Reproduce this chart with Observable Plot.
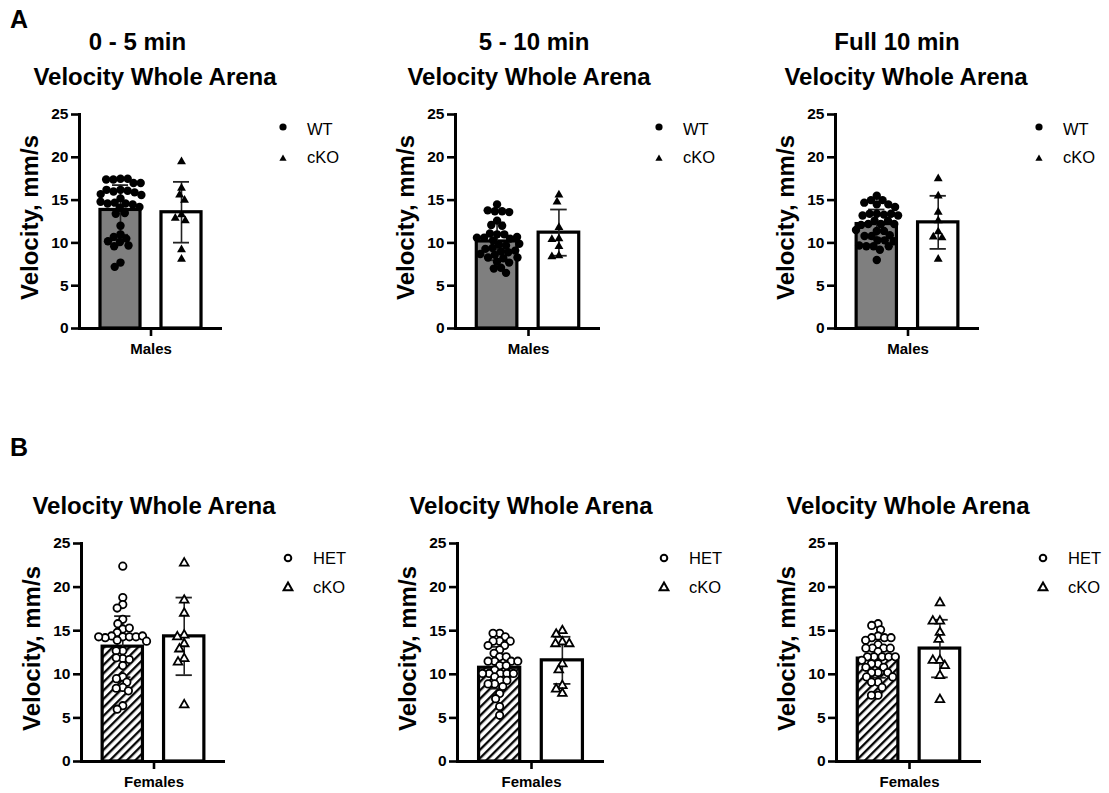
<!DOCTYPE html>
<html><head><meta charset="utf-8">
<script src="https://cdn.jsdelivr.net/npm/d3@7"></script>
<script src="https://cdn.jsdelivr.net/npm/@observablehq/plot@0.6"></script>
<style>
html,body{margin:0;padding:0;background:#fff;}
body{width:1109px;height:793px;position:relative;overflow:hidden;font-family:"Liberation Sans",Arial,sans-serif;}
.abs{position:absolute;}
.abs svg{overflow:visible;}
</style></head><body>
<script>
// ---------- data ----------
const groupsA = ["WT", "cKO"];
const groupsB = ["HET", "cKO"];
const yTicks = [0, 5, 10, 15, 20, 25];

// A: Males, 0-5 min
const a1WT = [17.5,17.4,17.5,17.4,17.0,17.0,16.2,16.0,16.1,16.2,15.9,15.7,15.6,15.2,14.7,14.6,14.5,14.6,14.8,14.2,14.1,13.5,13.4,12.0,11.0,10.7,10.5,10.2,10.1,9.7,9.6,7.7,7.2];
const a1cKO = [19.5,16.4,15.6,15.0,13.3,12.9,12.6,9.2,8.1];
const a1Mean = [13.85, 13.58];
const a1SD = [2.9, 3.55];
// A: Males, 5-10 min
const a2WT = [14.5,13.7,13.7,13.8,13.6,12.6,12.1,12.0,11.0,11.1,11.0,10.6,10.5,10.7,10.6,10.3,9.8,9.9,9.7,9.4,9.3,9.0,8.9,9.1,8.6,8.7,8.3,8.3,8.2,7.8,7.7,7.1,7.0,6.5];
const a2cKO = [15.6,14.8,11.8,10.5,10.4,9.6,8.5,8.4];
const a2Mean = [10.17, 11.2];
const a2SD = [2.2, 2.7];
// A: Males, full 10 min
const a3WT = [15.5,15.0,15.0,14.7,14.5,14.5,14.2,13.4,13.4,13.3,13.4,13.2,13.2,12.6,12.6,12.2,12.2,12.1,12.2,11.4,11.4,11.5,10.8,10.8,10.9,10.3,10.3,10.2,9.6,9.6,9.7,9.6,9.2,8.0];
const a3cKO = [17.5,15.5,13.6,12.6,11.3,10.7,10.6,8.1];
const a3Mean = [12.2, 12.4];
const a3SD = [1.7, 3.1];
// B: Females
const b1HET = [22.4,18.8,18.0,17.6,16.3,15.8,15.2,15.3,14.8,14.3,14.3,14.4,14.3,14.2,14.4,14.3,13.9,13.8,12.7,12.7,11.8,11.9,11.7,11.0,9.7,9.5,9.1,8.5,8.4,8.1,6.4,6.0];
const b1cKO = [22.75,18.5,17.0,14.5,14.3,13.5,12.9,11.8,11.4,6.5];
const b1Mean = [13.17, 14.35];
const b1SD = [3.5, 4.45];
const b2HET = [14.7,14.7,14.3,13.8,13.8,13.8,13.3,13.3,12.8,12.4,12.0,12.0,11.5,11.5,11.5,11.5,11.0,11.0,10.5,10.1,10.1,10.1,10.1,10.1,9.7,9.3,9.3,8.9,8.9,8.6,7.8,7.2,6.3,5.3];
const b2cKO = [15.0,14.6,13.7,13.5,13.5,11.2,10.5,8.7,8.3,7.8];
const b2Mean = [10.75, 11.6];
const b2SD = [2.4, 2.7];
const b3HET = [15.8,15.6,15.1,14.4,14.2,14.2,14.2,13.9,13.4,13.0,13.0,13.0,13.0,12.6,12.0,12.0,12.0,12.0,12.0,11.6,11.2,11.2,10.8,10.8,10.2,10.2,10.2,9.7,9.7,9.1,9.1,8.5,7.6,7.6];
const b3cKO = [18.2,16.1,16.1,14.8,14.0,11.6,11.6,11.0,9.85,7.1];
const b3Mean = [11.8, 12.95];
const b3SD = [2.2, 3.3];

const yLabel = "Velocity, mm/s";
const panelTitle = "Velocity Whole Arena";
const timeTitles = ["0 - 5 min", "5 - 10 min", "Full 10 min"];

// ---------- layout (page positions of each frame) ----------
const FONT = '"Liberation Sans", Arial, sans-serif';
const ML = 70, MR = 12, MT = 12, MB = 40;
const panels = [
  {id:"A1", groups:groupsA, pts:[a1WT,a1cKO], mean:a1Mean, sd:a1SD, sex:"Males",   open:false, ax:79,  ay:114, w:143, h:214, tx:155, ttx:137.5, tt:timeTitles[0]},
  {id:"A2", groups:groupsA, pts:[a2WT,a2cKO], mean:a2Mean, sd:a2SD, sex:"Males",   open:false, ax:455, ay:114, w:145, h:214, tx:529, ttx:534, tt:timeTitles[1]},
  {id:"A3", groups:groupsA, pts:[a3WT,a3cKO], mean:a3Mean, sd:a3SD, sex:"Males",   open:false, ax:835, ay:114, w:144, h:214, tx:906, ttx:897, tt:timeTitles[2]},
  {id:"B1", groups:groupsB, pts:[b1HET,b1cKO], mean:b1Mean, sd:b1SD, sex:"Females", open:true, ax:81,  ay:543, w:144, h:218, tx:154},
  {id:"B2", groups:groupsB, pts:[b2HET,b2cKO], mean:b2Mean, sd:b2SD, sex:"Females", open:true, ax:457, ay:543, w:147, h:218, tx:531},
  {id:"B3", groups:groupsB, pts:[b3HET,b3cKO], mean:b3Mean, sd:b3SD, sex:"Females", open:true, ax:836, ay:543, w:145, h:218, tx:908}
];

function addHatch(svg, id) {
  const ns = "http://www.w3.org/2000/svg";
  const defs = document.createElementNS(ns, "defs");
  defs.innerHTML = `<pattern id="${id}" patternUnits="userSpaceOnUse" width="6" height="6" patternTransform="rotate(45)">
     <rect width="6" height="6" fill="white"/>
     <line x1="1.2" y1="0" x2="1.2" y2="6" stroke="black" stroke-width="2.3"/></pattern>`;
  svg.insertBefore(defs, svg.firstChild);
}

for (const p of panels) {
  const width = ML + p.w + MR, height = MT + p.h + MB;
  const summary = p.groups.map((g, i) => ({g, mean: p.mean[i], sd: p.sd[i]}));
  const pts0 = p.pts[0].map(v => ({g: p.groups[0], v}));
  const pts1 = p.pts[1].map(v => ({g: p.groups[1], v}));
  const hatchId = "hatch-" + p.id;
  const fill0 = p.open ? `url(#${hatchId})` : "#7f7f7f";
  const dotFill = p.open ? "white" : "black";
  const dotStroke = p.open ? "black" : "none";

  const dataPlot = Plot.plot({
    width, height, marginLeft: ML, marginRight: MR, marginTop: MT, marginBottom: MB,
    style: {background: "transparent", fontFamily: FONT},
    fx: {domain: p.groups, paddingInner: 0.344, paddingOuter: 0.344, round: false, axis: null, label: null},
    y: {domain: [0, 25], axis: null},
    marks: [
      Plot.barY([summary[0]], {fx: "g", y: "mean", fill: fill0, stroke: "black", strokeWidth: 3.2}),
      Plot.barY([summary[1]], {fx: "g", y: "mean", fill: "white", stroke: "black", strokeWidth: 3.2}),
      Plot.ruleX(summary, {fx: "g", x: null, y1: d => d.mean - d.sd, y2: d => d.mean + d.sd, stroke: "#222", strokeWidth: 1.6}),
      Plot.tickY(summary, {fx: "g", y: d => d.mean + d.sd, stroke: "#222", strokeWidth: 1.8, insetLeft: 12, insetRight: 12}),
      Plot.tickY(summary, {fx: "g", y: d => d.mean - d.sd, stroke: "#222", strokeWidth: 1.8, insetLeft: 12, insetRight: 12}),
      Plot.dot(pts0, Plot.dodgeX({anchor: "middle", padding: 0, r: p.open ? 3.3 : 3.6},
        {fx: "g", y: "v", r: p.open ? 3.7 : 4.2, symbol: "circle", fill: dotFill, stroke: dotStroke, strokeWidth: 1.8})),
      Plot.dot(pts1, Plot.dodgeX({anchor: "middle", padding: 0.5, r: 3.3},
        {fx: "g", y: "v", r: p.open ? 3.2 : 3.3, symbol: "triangle", fill: dotFill, stroke: dotStroke, strokeWidth: 1.8}))
    ]
  });
  if (p.open) addHatch(dataPlot, hatchId);

  const axisPlot = Plot.plot({
    width, height, marginLeft: ML, marginRight: MR, marginTop: MT, marginBottom: MB,
    style: {background: "transparent", fontFamily: FONT, fontWeight: "bold", color: "black"},
    x: {type: "band", domain: [p.sex], axis: null},
    y: {domain: [0, 25], axis: null},
    marks: [
      Plot.axisY({ticks: yTicks, tickSize: 8, tickPadding: 3, strokeWidth: 2.6, fontSize: 15.5, fontWeight: "bold", label: null}),
      Plot.axisX({tickSize: 8, tickPadding: 7, strokeWidth: 2.6, fontSize: 15, fontWeight: "bold", label: null}),
      Plot.ruleY([0], {strokeWidth: 3}),
      Plot.frame({anchor: "left", strokeWidth: 3}),
      Plot.text([yLabel], {frameAnchor: "left", textAnchor: "middle", rotate: -90, dx: -59, dy: -4, lineAnchor: "top", fontSize: 24, fontWeight: "bold", text: d => d})
    ]
  });

  for (const el of [dataPlot, axisPlot]) {
    const div = document.createElement("div");
    div.className = "abs";
    div.style.left = (p.ax - ML) + "px";
    div.style.top = (p.ay - MT) + "px";
    div.style.width = width + "px";
    div.style.height = height + "px";
    el.style.maxWidth = "none";
    div.appendChild(el);
    document.body.appendChild(div);
  }
}

// ---------- titles & legends overlay ----------
const ov = d3.select("body").append("svg")
  .attr("class", "abs").attr("width", 1109).attr("height", 793)
  .style("left", "0px").style("top", "0px").style("pointer-events", "none")
  .style("font-family", FONT);

ov.append("text").attr("x", 10).attr("y", 28).attr("font-size", 25).attr("font-weight", "bold").text("A");
ov.append("text").attr("x", 10).attr("y", 456).attr("font-size", 25).attr("font-weight", "bold").text("B");

for (const p of panels) {
  const isA = !p.open;
  if (p.tt) ov.append("text").attr("x", p.ttx).attr("y", 50).attr("text-anchor", "middle")
      .attr("font-size", 24).attr("font-weight", "bold").text(p.tt);
  ov.append("text").attr("x", p.tx).attr("y", isA ? 85 : 514).attr("text-anchor", "middle")
      .attr("font-size", 24).attr("font-weight", "bold").text(panelTitle);
  // legend
  const sx = p.ax + (isA ? 204 : 207);
  const txx = p.ax + (isA ? 228 : 232);
  const rows = isA ? [13, 44] : [15, 44];
  const base = isA ? [21, 49] : [21, 50];
  p.groups.forEach((g, i) => {
    const cy = p.ay + rows[i];
    if (i === 0) {
      ov.append("circle").attr("cx", sx).attr("cy", cy).attr("r", isA ? 3.6 : 3.3)
        .attr("fill", isA ? "black" : "white").attr("stroke", isA ? "none" : "black").attr("stroke-width", 2);
    } else {
      const s = isA ? 3.6 : 4.4;
      ov.append("path").attr("d", `M${sx},${cy - s}L${sx + s},${cy + s * 0.75}L${sx - s},${cy + s * 0.75}Z`)
        .attr("fill", isA ? "black" : "white").attr("stroke", isA ? "none" : "black").attr("stroke-width", 2);
    }
    ov.append("text").attr("x", txx).attr("y", p.ay + base[i]).attr("font-size", 16.5).text(g);
  });
}
</script>
</body></html>
